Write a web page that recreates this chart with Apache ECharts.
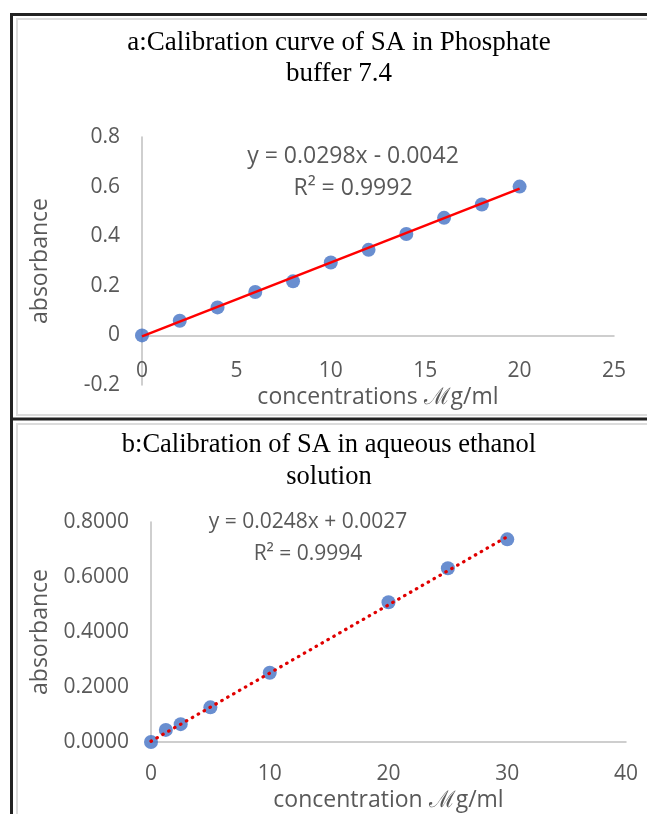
<!DOCTYPE html>
<html>
<head>
<meta charset="utf-8">
<script src="https://cdn.jsdelivr.net/npm/echarts@6/dist/echarts.min.js"></script>
<style>
  html, body { margin: 0; padding: 0; background: #fff; }
  #chart { width: 647px; height: 814px; }
</style>
</head>
<body>
<div id="chart"></div>
<script>
// panel a: phosphate buffer 7.4
var concA = [0, 2, 4, 6, 8, 10, 12, 14, 16, 18, 20];
var absA = [0, 0.059, 0.113, 0.175, 0.218, 0.294, 0.345, 0.409, 0.474, 0.528, 0.600];
var fitA = {slope: 0.0298, intercept: -0.0042, r2: '0.9992'};

// panel b: aqueous ethanol
var concB = [0, 1.25, 2.5, 5, 10, 20, 25, 30];
var absB = [0, 0.044, 0.065, 0.126, 0.252, 0.508, 0.632, 0.737];
var fitB = {slope: 0.0248, intercept: 0.0027, r2: '0.9994'};

var grey = '#595959';
var axisGrey = '#bfbfbf';
var sans = '"Open Sans", sans-serif';
var serif = '"Liberation Serif", "Times New Roman", serif';

function pairs(xs, ys) {
    var out = [];
    for (var i = 0; i < xs.length; i++) {
        out.push([xs[i], ys[i]]);
    }
    return out;
}

// trendline end points from the fitted equation
function fitLine(fit, x0, x1) {
    return [[x0, fit.slope * x0 + fit.intercept], [x1, fit.slope * x1 + fit.intercept]];
}

function xAxisOf(idx, max, step, name, gap, margin) {
    return {
        type: 'value', gridIndex: idx, min: 0, max: max, interval: step,
        name: name, nameLocation: 'middle', nameGap: gap,
        nameTextStyle: {color: grey, fontSize: 23, fontFamily: sans},
        axisLine: {onZero: true, lineStyle: {color: axisGrey, width: 1.5}},
        axisTick: {show: false},
        axisLabel: {color: grey, fontSize: 21, fontFamily: sans, margin: margin},
        splitLine: {show: false}
    };
}

function yAxisOf(idx, min, max, digits, gap) {
    return {
        type: 'value', gridIndex: idx, min: min, max: max, interval: 0.2,
        name: 'absorbance', nameLocation: 'middle', nameGap: gap,
        nameTextStyle: {color: grey, fontSize: 23, fontFamily: sans},
        axisLine: {show: true, onZero: false, lineStyle: {color: axisGrey, width: 1.5}},
        axisTick: {show: false},
        axisLabel: {
            color: grey, fontSize: 21, fontFamily: sans, margin: 22,
            formatter: function (v) {
                if (digits === 0) return String(Math.round(v * 10) / 10);
                return v.toFixed(digits);
            }
        },
        splitLine: {show: false}
    };
}

var chart = echarts.init(document.getElementById('chart'));

var options = {
    backgroundColor: '#fff',
    animation: false,
    title: [
        {
            text: 'a:Calibration curve of SA in Phosphate\nbuffer 7.4',
            left: 334, top: 22, textAlign: 'center',
            textStyle: {fontFamily: serif, fontSize: 27, fontWeight: 'normal', color: '#000', lineHeight: 31}
        },
        {
            text: 'b:Calibration of SA in aqueous ethanol\nsolution',
            left: 324, top: 424, textAlign: 'center',
            textStyle: {fontFamily: serif, fontSize: 26.5, fontWeight: 'normal', color: '#000', lineHeight: 32}
        }
    ],
    grid: [
        {left: 142, right: 33, top: 137, bottom: 429},
        {left: 151, right: 21, top: 522, bottom: 72}
    ],
    xAxis: [
        // labels of panel a sit just under the zero line, not under the grid bottom
        xAxisOf(0, 25, 5, 'concentrations \u2133g/ml', 1, -24),
        xAxisOf(1, 40, 10, 'concentration \u2133g/ml', 47, 22)
    ],
    yAxis: [
        yAxisOf(0, -0.2, 0.8, 0, 90),
        yAxisOf(1, 0, 0.8, 4, 99)
    ],
    series: [
        {
            type: 'line', xAxisIndex: 0, yAxisIndex: 0,
            data: fitLine(fitA, 0, 20), showSymbol: false, symbol: 'none',
            lineStyle: {color: '#ff0000', width: 2.5}, z: 3
        },
        {
            type: 'scatter', xAxisIndex: 0, yAxisIndex: 0,
            data: pairs(concA, absA), symbolSize: 14,
            itemStyle: {color: '#4472c4'}, z: 2
        },
        {
            type: 'scatter', xAxisIndex: 1, yAxisIndex: 1,
            data: pairs(concB, absB), symbolSize: 14,
            itemStyle: {color: '#4472c4'}, z: 2
        },
        {
            type: 'line', xAxisIndex: 1, yAxisIndex: 1,
            data: fitLine(fitB, 0, 30), showSymbol: false, symbol: 'none',
            lineStyle: {color: '#e00000', width: 3.2, type: [0.5, 6.3], cap: 'round'}, z: 3
        }
    ],
    graphic: [
        // panel frames
        {type: 'rect', shape: {x: 17, y: 19, width: 640, height: 396}, style: {fill: 'none', stroke: '#dcdcdc', lineWidth: 2}, silent: true},
        {type: 'rect', shape: {x: 17, y: 424, width: 640, height: 400}, style: {fill: 'none', stroke: '#dcdcdc', lineWidth: 2}, silent: true},
        {type: 'line', shape: {x1: 11.5, y1: 14.5, x2: 647, y2: 14.5}, style: {stroke: '#222', lineWidth: 3}, silent: true},
        {type: 'line', shape: {x1: 11.5, y1: 419, x2: 647, y2: 419}, style: {stroke: '#222', lineWidth: 3}, silent: true},
        {type: 'line', shape: {x1: 11.5, y1: 13, x2: 11.5, y2: 814}, style: {stroke: '#222', lineWidth: 3}, silent: true},
        // trendline equations
        {
            type: 'text', x: 353, y: 145,
            style: {text: 'y = ' + fitA.slope + 'x - ' + Math.abs(fitA.intercept).toFixed(4), fill: grey, font: '23px ' + sans, textAlign: 'center'}
        },
        {
            type: 'text', x: 353, y: 177,
            style: {text: 'R\u00b2 = ' + fitA.r2, fill: grey, font: '23px ' + sans, textAlign: 'center'}
        },
        {
            type: 'text', x: 308, y: 512,
            style: {text: 'y = ' + fitB.slope + 'x + ' + fitB.intercept.toFixed(4), fill: grey, font: '21px ' + sans, textAlign: 'center'}
        },
        {
            type: 'text', x: 308, y: 544,
            style: {text: 'R\u00b2 = ' + fitB.r2, fill: grey, font: '21px ' + sans, textAlign: 'center'}
        }
    ]
};

chart.setOption(options);
</script>
</body>
</html>
